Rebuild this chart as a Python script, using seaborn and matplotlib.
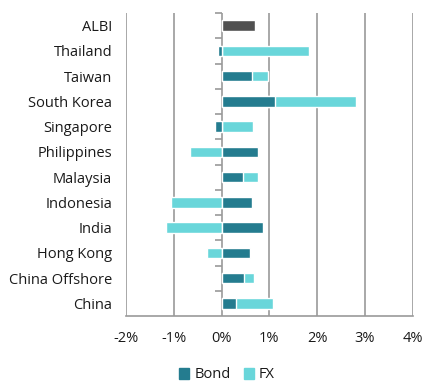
import matplotlib.pyplot as plt
import numpy as np
import pandas as pd
import seaborn as sns
from matplotlib.patches import Patch

markets = ["ALBI", "Thailand", "Taiwan", "South Korea", "Singapore", "Philippines",
           "Malaysia", "Indonesia", "India", "Hong Kong", "China Offshore", "China"]
bond = [0.70, -0.08, 0.63, 1.12, -0.13, 0.77, 0.45, 0.64, 0.87, 0.59, 0.47, 0.31]
fx = [0.00, 1.83, 0.35, 1.69, 0.66, -0.66, 0.32, -1.06, -1.16, -0.31, 0.21, 0.76]

BOND_C = "#247C8F"
FX_C = "#69D6DA"
ALBI_C = "#505050"
GRID_C = "#9A9A9A"

df = pd.DataFrame({"market": markets, "bond": bond, "fx": fx})
# diverging stack: FX sits on top of bond when signs agree, else starts at 0
same_sign = np.sign(df["fx"]) == np.sign(df["bond"])
df["fx_end"] = np.where(same_sign, df["bond"] + df["fx"], df["fx"])

sns.set_style("white")
plt.rcParams["font.family"] = ["Open Sans", "DejaVu Sans"]

fig, ax = plt.subplots(figsize=(4.36, 3.89), dpi=100)
fig.subplots_adjust(left=126 / 436, right=412.7 / 436, top=1 - 13 / 389, bottom=1 - 316 / 389)

sns.barplot(data=df, x="fx_end", y="market", color=FX_C, width=0.42,
            orient="h", ax=ax, zorder=3, saturation=1)
bond_pal = [ALBI_C] + [BOND_C] * (len(markets) - 1)
sns.barplot(data=df, x="bond", y="market", hue="market", palette=bond_pal, width=0.42,
            orient="h", ax=ax, zorder=4, saturation=1, legend=False)

ax.set_xlim(-2, 4)
ax.set_ylim(len(markets) - 0.5, -0.5)
ax.set_xticks(np.arange(-2, 5, 1))
ax.set_xticklabels([f"{v}%" for v in range(-2, 5)])
ax.set_xlabel("")
ax.set_ylabel("")

for v in range(-2, 5):
    ax.axvline(v, color=GRID_C, lw=1.2, zorder=1)

for s in ["top", "right", "left"]:
    ax.spines[s].set_visible(False)
ax.spines["bottom"].set_color(GRID_C)
ax.spines["bottom"].set_linewidth(1.2)
ax.tick_params(axis="x", length=4, color=GRID_C, width=1.2, labelsize=10.5,
               labelcolor="#1a1a1a", pad=7)
ax.tick_params(axis="y", length=0, labelsize=10.5, labelcolor="#1a1a1a", pad=10)

# small ticks on the zero line between categories
sec = ax.secondary_yaxis(1 / 3)
sec.set_yticks(np.arange(-0.5, len(markets) - 0.5, 1))
sec.set_yticklabels([])
sec.spines["left"].set_visible(False)
sec.spines["right"].set_visible(False)
sec.tick_params(axis="y", which="major", length=5, color=GRID_C, width=1.2,
                direction="out", left=True, right=False)

handles = [Patch(color=BOND_C, label="Bond"), Patch(color=FX_C, label="FX")]
fig.legend(handles=handles, loc="center", bbox_to_anchor=(227 / 436, 1 - 375 / 389),
           ncol=2, frameon=False, fontsize=10.5, handlelength=0.7, handleheight=0.7,
           handletextpad=0.35, columnspacing=0.9, labelcolor="#1a1a1a")

fig.savefig("out.png", dpi=100)
